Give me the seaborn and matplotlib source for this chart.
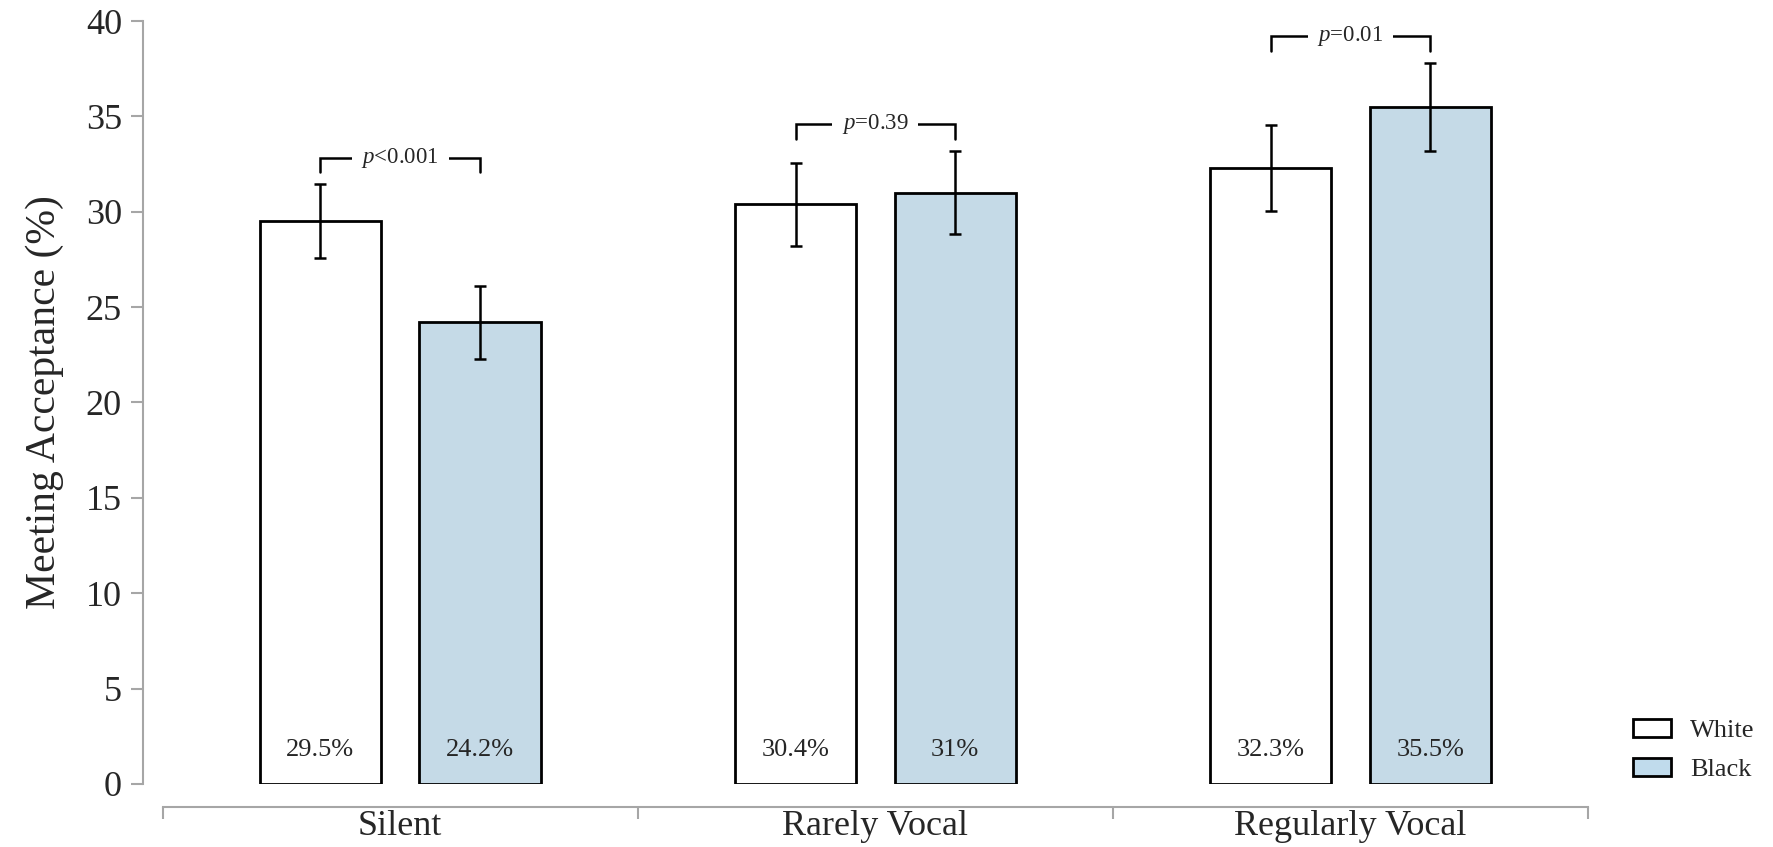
import matplotlib
matplotlib.use("Agg")
import pandas as pd
import matplotlib.pyplot as plt
from matplotlib.patches import Patch
import seaborn as sns

# data
categories = ["Silent", "Rarely Vocal", "Regularly Vocal"]
groups = ["White", "Black"]
white_vals = [29.5, 30.4, 32.3]
black_vals = [24.2, 31.0, 35.5]
white_err = [1.93, 2.18, 2.25]
black_err = [1.90, 2.19, 2.29]
p_labels = ["<0.001", "=0.39", "=0.01"]
yticks = [0, 5, 10, 15, 20, 25, 30, 35, 40]

colors = {"White": "#ffffff", "Black": "#c0dbec"}
gray = "#a6a6a6"

df = pd.DataFrame({
    "Voice": categories * 2,
    "Race": ["White"] * 3 + ["Black"] * 3,
    "Acceptance": white_vals + black_vals,
    "Err": white_err + black_err,
})

sns.set_style("white")
plt.rcParams["font.family"] = ["Liberation Serif", "DejaVu Serif"]
plt.rcParams["mathtext.fontset"] = "custom"
plt.rcParams["mathtext.rm"] = "Liberation Serif"
plt.rcParams["mathtext.it"] = "Liberation Serif:italic"

fig = plt.figure(figsize=(17.73, 8.47), dpi=100)
ax = fig.add_axes([0.0805, 0.0744, 0.8152, 0.9008])

sns.barplot(data=df, x="Voice", y="Acceptance", hue="Race", order=categories,
            hue_order=groups, palette=colors, edgecolor="black", linewidth=2,
            width=0.672, gap=0.24, errorbar=None, legend=False, ax=ax)

# error bars + value labels inside bars
centers = {}
for cont, g in zip(ax.containers, groups):
    sub = df[df.Race == g].set_index("Voice").loc[categories]
    xs = [b.get_x() + b.get_width() / 2 for b in cont]
    centers[g] = xs
    ax.errorbar(xs, sub.Acceptance, yerr=sub.Err, fmt="none", ecolor="black",
                elinewidth=1.8, capsize=4.3, capthick=1.8, zorder=4)
    for x, v in zip(xs, sub.Acceptance):
        ax.text(x, 1.8, f"{v:g}%", ha="center", va="center", fontsize=19)

# significance brackets
for i, p in enumerate(p_labels):
    xl, xr = centers["White"][i], centers["Black"][i]
    top = max(white_vals[i] + white_err[i], black_vals[i] + black_err[i])
    y1, y2 = top + 0.65, top + 1.4
    ax.plot([xl, xl, xr, xr], [y1, y2, y2, y1], color="black", lw=1.8,
            solid_joinstyle="miter", zorder=2)
    ax.text((xl + xr) / 2, y2, f"$p${p}", ha="center", va="center", fontsize=16.5,
            zorder=5, bbox=dict(facecolor="white", edgecolor="none", pad=7))

ax.set_xlim(-0.542, 2.5)
ax.set_ylim(0, 40)
ax.set_yticks(yticks)
for s in ["top", "right"]:
    ax.spines[s].set_visible(False)
ax.spines["left"].set_color(gray)
ax.spines["left"].set_linewidth(1.5)
ax.spines["left"].set_bounds(0, 40)
ax.spines["bottom"].set_position(("outward", 16.5))
ax.spines["bottom"].set_bounds(-0.5, 2.5)
ax.spines["bottom"].set_color(gray)
ax.spines["bottom"].set_linewidth(1.5)

ax.set_xticks([-0.5, 0.5, 1.5, 2.5])
ax.set_xticklabels([])
ax.set_xticks([0, 1, 2], minor=True)
ax.set_xticklabels(categories, minor=True, fontsize=26)
ax.tick_params(axis="x", which="major", bottom=True, direction="out", length=8.5,
               width=1.5, color=gray)
ax.tick_params(axis="x", which="minor", bottom=True, length=0, pad=2)
ax.tick_params(axis="y", left=True, length=9, width=1.5, color=gray, labelsize=26, pad=6)
ax.set_xlabel("")
ax.set_ylabel("Meeting Acceptance (%)", fontsize=30, labelpad=16)

handles = [Patch(facecolor=colors[g], edgecolor="black", linewidth=2, label=g) for g in groups]
fig.legend(handles=handles, loc="upper left", bbox_to_anchor=(1633 / 1773, 1 - 719 / 847),
           frameon=False, fontsize=19, handlelength=1.45, handleheight=0.68,
           handletextpad=0.72, labelspacing=0.6, borderpad=0, borderaxespad=0)

fig.savefig("out.png", dpi=100)
